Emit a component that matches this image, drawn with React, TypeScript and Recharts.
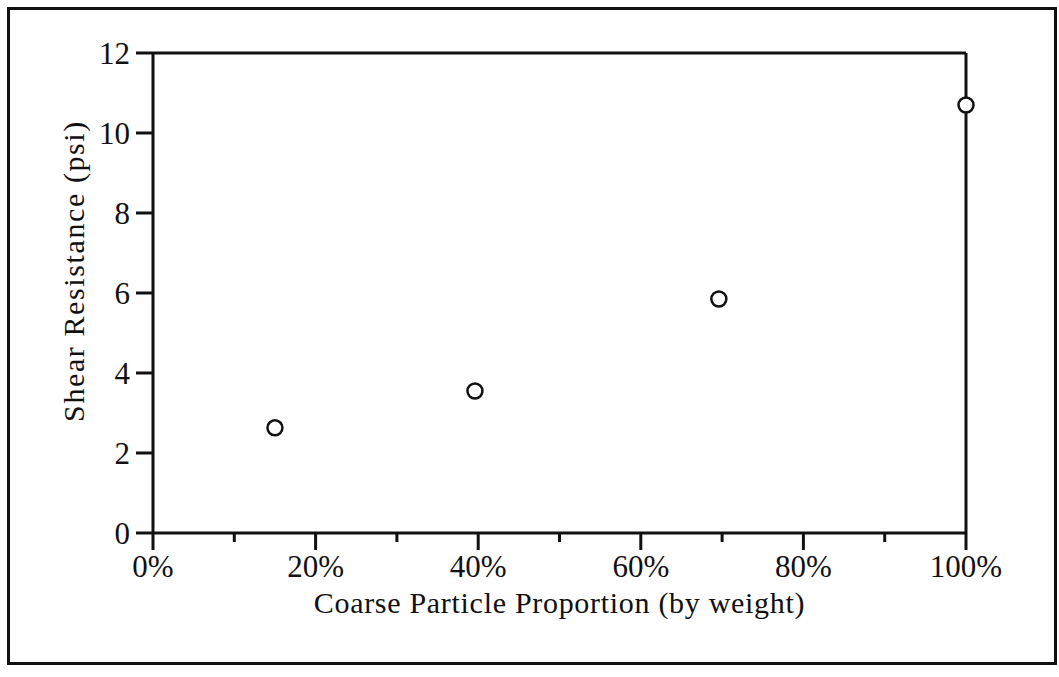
import React from "react"
import {
  ScatterChart,
  Scatter,
  XAxis,
  YAxis,
  ReferenceLine,
  Label
} from "recharts"

const coarseProportion = [15, 39.6, 69.6, 100]
const shearResistance = [2.63, 3.55, 5.85, 10.7]
const xTicks = [0, 10, 20, 30, 40, 50, 60, 70, 80, 90, 100]
const yTicks = [0, 2, 4, 6, 8, 10, 12]

const points = coarseProportion.map((x, i) => ({ x, y: shearResistance[i] }))

const FONT = "'Liberation Serif', 'DejaVu Serif', serif"

function XTick(props: any) {
  const { x, y, payload } = props
  const major = payload.value % 20 === 0
  return (
    <g>
      <line x1={x} y1={y - 8} x2={x} y2={y - 8 + (major ? 17 : 9)} stroke="#111" strokeWidth={3} />
      {major && (
        <text x={x} y={y + 36} textAnchor="middle" fontFamily={FONT} fontSize={31} fill="#111">
          {payload.value}%
        </text>
      )}
    </g>
  )
}

function YTitle(props: any) {
  const { viewBox } = props
  const cx = viewBox.x - 20
  const cy = viewBox.y + viewBox.height / 2 - 22
  return (
    <text
      x={cx}
      y={cy}
      transform={`rotate(-90 ${cx} ${cy})`}
      textAnchor="middle"
      dominantBaseline="central"
      fontFamily={FONT}
      fontSize={30}
      letterSpacing={1.6}
      fill="#111"
    >
      Shear Resistance (psi)
    </text>
  )
}

function Ring(props: any) {
  const { cx, cy } = props
  return <circle cx={cx} cy={cy} r={7.5} fill="#fff" stroke="#111" strokeWidth={2.5} />
}

export default function App() {
  return (
    <div style={{ position: "absolute", left: 0, top: 0, width: 1059, height: 677, background: "#fff" }}>
      <div style={{ position: "absolute", left: 0, top: 0 }}>
        <ScatterChart width={1059} height={677} margin={{ top: 53, right: 93, bottom: 84, left: 93 }}>
          <XAxis
            type="number"
            dataKey="x"
            domain={[0, 100]}
            ticks={xTicks}
            interval={0}
            tick={<XTick />}
            tickLine={false}
            axisLine={{ stroke: "#111", strokeWidth: 3 }}
            height={60}
          >
            <Label
              value="Coarse Particle Proportion (by weight)"
              position="insideBottom"
              offset={-20}
              style={{ fontFamily: FONT, fontSize: 30, fill: "#111", letterSpacing: 0.7 }}
            />
          </XAxis>
          <YAxis
            type="number"
            dataKey="y"
            domain={[0, 12]}
            ticks={yTicks}
            interval={0}
            tickSize={17}
            tickMargin={6}
            tickLine={{ stroke: "#111", strokeWidth: 3 }}
            axisLine={{ stroke: "#111", strokeWidth: 3 }}
            tick={{ fontFamily: FONT, fontSize: 31, fill: "#111" }}
            width={60}
          >
            <Label content={<YTitle />} />
          </YAxis>
          <ReferenceLine y={12} stroke="#111" strokeWidth={3} />
          <ReferenceLine x={100} stroke="#111" strokeWidth={3} />
          <Scatter data={points} shape={<Ring />} isAnimationActive={false} />
        </ScatterChart>
      </div>
      <div
        style={{
          position: "absolute",
          left: 7,
          top: 7,
          width: 1044,
          height: 652,
          border: "3px solid #111",
          pointerEvents: "none"
        }}
      />
    </div>
  )
}
